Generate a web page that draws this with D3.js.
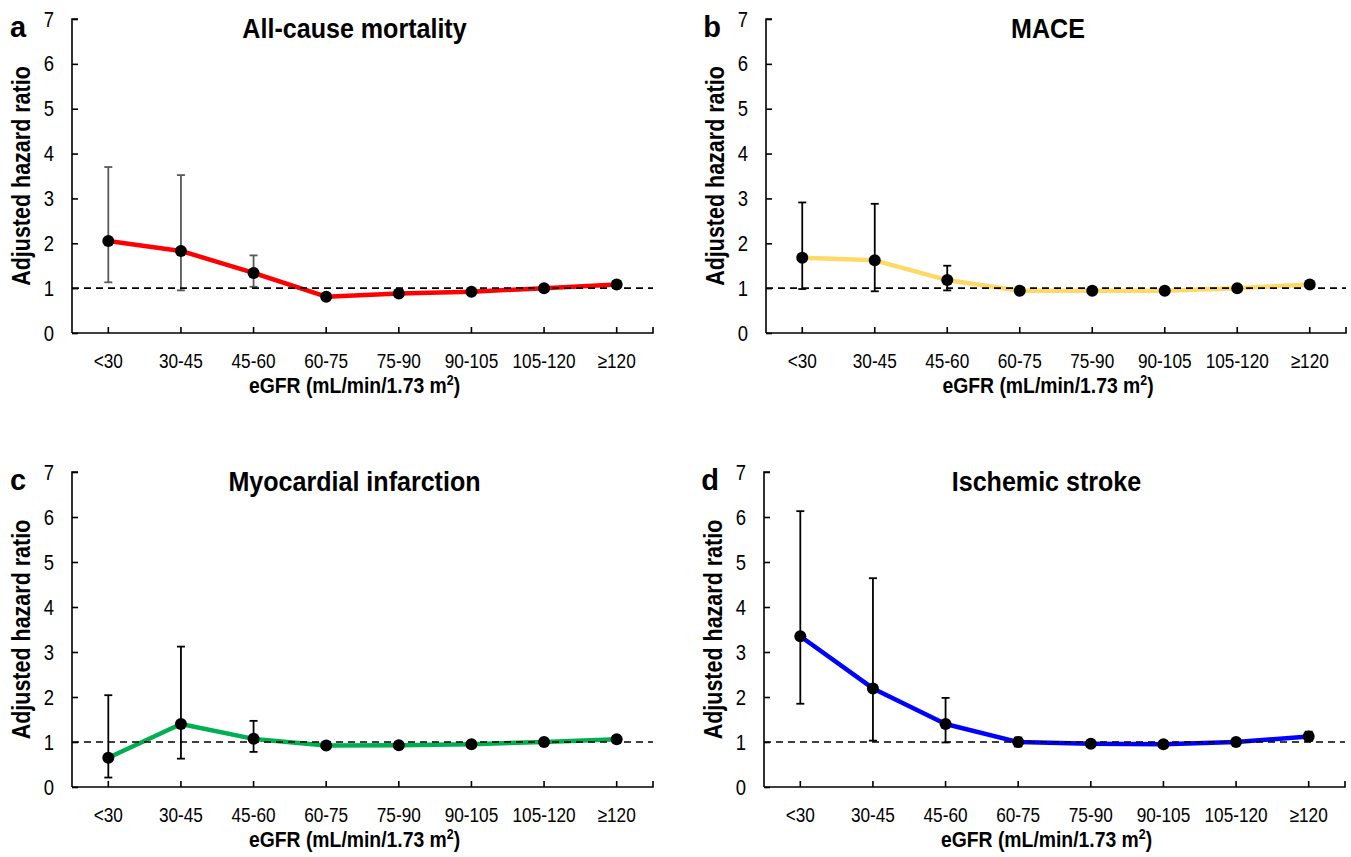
<!DOCTYPE html>
<html>
<head>
<meta charset="utf-8">
<script src="https://cdn.jsdelivr.net/npm/d3@7"></script>
<style>
  body { margin: 0; background: #fff; }
  svg { display: block; }
</style>
</head>
<body>
<div id="chart"></div>
<script>
const W = 1351, H = 857;

const categories = ["<30", "30-45", "45-60", "60-75", "75-90", "90-105", "105-120", "\u2265120"];
const yTicks = [0, 1, 2, 3, 4, 5, 6, 7];

const titles = ["All-cause mortality", "MACE", "Myocardial infarction", "Ischemic stroke"];
const letters = ["a", "b", "c", "d"];
const lineColors = ["#ff0000", "#ffd966", "#00b050", "#0000ff"];
const barColors = ["#595959", "#000000", "#000000", "#000000"];

// hazard ratios and 95% CI per panel
const hrA = [2.05, 1.83, 1.34, 0.81, 0.88, 0.92, 1.0, 1.08];
const loA = [1.13, 0.95, 1.03, 0.77, 0.84, 0.88, 0.97, 1.03];
const hiA = [3.70, 3.52, 1.73, 0.86, 0.92, 0.96, 1.03, 1.13];

const hrB = [1.68, 1.62, 1.18, 0.94, 0.94, 0.94, 1.0, 1.08];
const loB = [0.98, 0.93, 0.95, 0.89, 0.90, 0.90, 0.97, 1.02];
const hiB = [2.91, 2.88, 1.50, 0.99, 0.98, 0.98, 1.03, 1.14];

const hrC = [0.65, 1.40, 1.07, 0.92, 0.93, 0.95, 1.0, 1.06];
const loC = [0.21, 0.63, 0.78, 0.86, 0.88, 0.90, 0.96, 0.98];
const hiC = [2.04, 3.12, 1.47, 0.98, 0.99, 1.00, 1.04, 1.13];

const hrD = [3.35, 2.19, 1.40, 1.00, 0.96, 0.95, 1.0, 1.12];
const loD = [1.85, 1.03, 0.99, 0.90, 0.90, 0.89, 0.96, 1.02];
const hiD = [6.13, 4.64, 1.98, 1.10, 1.02, 1.01, 1.04, 1.23];

const hrs = [hrA, hrB, hrC, hrD];
const los = [loA, loB, loC, loD];
const his = [hiA, hiB, hiC, hiD];

// panel frames: left, top, width, height of plot area
const frames = [
  {x: 72, y: 19, w: 581, h: 314},
  {x: 766, y: 19, w: 580, h: 314},
  {x: 72, y: 472, w: 581, h: 315},
  {x: 764, y: 472, w: 581, h: 315}
];

const svg = d3.select("#chart").append("svg")
  .attr("width", W)
  .attr("height", H);

const font = '"Liberation Sans", Arial, sans-serif';
const sx = 0.84; // squeeze to mimic the narrow face of the original

frames.forEach((f, i) => {
  const g = svg.append("g").attr("transform", `translate(${f.x},${f.y})`);

  const x = d3.scaleBand().domain(categories).range([0, f.w]);
  const cx = d => x(d) + x.bandwidth() / 2;
  const y = d3.scaleLinear().domain([0, 7]).range([f.h, 0]);

  // y axis, ticks pointing inward
  const ya = g.append("g")
    .call(d3.axisLeft(y).tickValues(yTicks).tickSize(-6).tickPadding(18).tickFormat(d3.format("d")));
  ya.select(".domain").attr("d", `M6,0H0V${f.h}`);
  ya.selectAll("path, line").attr("stroke", "#000").attr("stroke-width", 1.6);
  ya.selectAll("text")
    .attr("font-size", 22).attr("fill", "#000").attr("font-family", font)
    .attr("x", -18 / sx)
    .attr("transform", `scale(${sx},1)`);

  // x axis, ticks pointing up
  const xa = g.append("g")
    .attr("transform", `translate(0,${f.h})`)
    .call(d3.axisBottom(x).tickSize(-6).tickPadding(20));
  xa.select(".domain").attr("d", `M0,0H${f.w}V-6`);
  xa.selectAll("path, line").attr("stroke", "#000").attr("stroke-width", 1.6);
  xa.selectAll("text")
    .attr("font-size", 20.5).attr("fill", "#000").attr("font-family", font)
    .attr("transform", `scale(${sx},1)`);

  const rows = categories.map((c, k) => ({c: c, hr: hrs[i][k], lo: los[i][k], hi: his[i][k]}));

  // error bars
  const eb = g.append("g").attr("stroke", barColors[i]).attr("stroke-width", 1.8).attr("fill", "none");
  eb.selectAll("line.v").data(rows).join("line")
    .attr("x1", d => cx(d.c)).attr("x2", d => cx(d.c))
    .attr("y1", d => y(d.lo)).attr("y2", d => y(d.hi));
  eb.selectAll("line.t").data(rows).join("line")
    .attr("x1", d => cx(d.c) - 4).attr("x2", d => cx(d.c) + 4)
    .attr("y1", d => y(d.hi)).attr("y2", d => y(d.hi));
  eb.selectAll("line.b").data(rows).join("line")
    .attr("x1", d => cx(d.c) - 4).attr("x2", d => cx(d.c) + 4)
    .attr("y1", d => y(d.lo)).attr("y2", d => y(d.lo));

  // series line
  g.append("path")
    .datum(rows)
    .attr("fill", "none")
    .attr("stroke", lineColors[i])
    .attr("stroke-width", 4.5)
    .attr("stroke-linejoin", "round")
    .attr("d", d3.line().x(d => cx(d.c)).y(d => y(d.hr)));

  // reference line at HR = 1
  g.append("line")
    .attr("x1", 0).attr("x2", f.w)
    .attr("y1", y(1)).attr("y2", y(1))
    .attr("stroke", "#000").attr("stroke-width", 1.6)
    .attr("stroke-dasharray", "7,5");

  g.selectAll("circle").data(rows).join("circle")
    .attr("cx", d => cx(d.c))
    .attr("cy", d => y(d.hr))
    .attr("r", 6)
    .attr("fill", "#000");

  // title
  g.append("text")
    .attr("transform", `translate(${f.w / 2 - 8},19) scale(0.88,1)`)
    .attr("text-anchor", "middle")
    .attr("font-family", font)
    .attr("font-weight", "bold")
    .attr("font-size", 28.5)
    .text(titles[i]);

  // panel letter
  g.append("text")
    .attr("x", -54)
    .attr("y", 18)
    .attr("text-anchor", "middle")
    .attr("font-family", font)
    .attr("font-weight", "bold")
    .attr("font-size", 29)
    .text(letters[i]);

  // y axis title
  g.append("text")
    .attr("transform", `translate(-42,${f.h / 2}) rotate(-90) scale(0.86,1)`)
    .attr("text-anchor", "middle")
    .attr("font-family", font)
    .attr("font-weight", "bold")
    .attr("font-size", 25)
    .text("Adjusted hazard ratio");

  // x axis title
  const xt = g.append("text")
    .attr("transform", `translate(${f.w / 2 - 8},${f.h + 60}) scale(0.88,1)`)
    .attr("text-anchor", "middle")
    .attr("font-family", font)
    .attr("font-weight", "bold")
    .attr("font-size", 22);
  xt.append("tspan").text("eGFR (mL/min/1.73 m");
  xt.append("tspan").attr("font-size", 14).attr("dy", -8).text("2");
  xt.append("tspan").attr("dy", 8).text(")");
});
</script>
</body>
</html>
